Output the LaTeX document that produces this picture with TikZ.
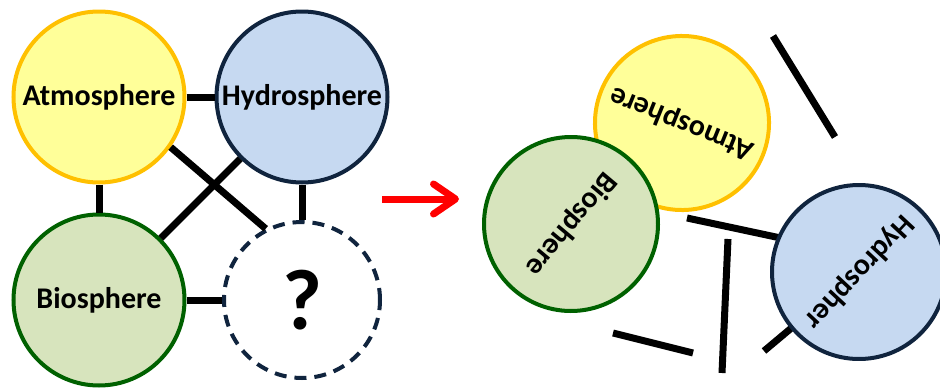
\documentclass[tikz,border=0pt]{standalone}
\usepackage{fontspec}
\setmainfont{Carlito}
\usetikzlibrary{arrows.meta}

\definecolor{atmofill}{HTML}{FFFF99}
\definecolor{atmoline}{HTML}{FFC000}
\definecolor{hydrofill}{HTML}{C6D9F1}
\definecolor{navyline}{HTML}{10243E}
\definecolor{biofill}{HTML}{D7E4BD}
\definecolor{bioline}{HTML}{006100}
\definecolor{arrowred}{HTML}{FF0000}

\tikzset{
  sphere/.style={circle, line width=4pt, minimum size=171pt, inner sep=0pt,
    font=\fontsize{30}{34}\selectfont\bfseries},
  atmo/.style={sphere, draw=atmoline, fill=atmofill},
  hydro/.style={sphere, draw=navyline, fill=hydrofill},
  bio/.style={sphere, draw=bioline, fill=biofill},
  unknown/.style={sphere, draw=navyline, fill=white, minimum size=156pt,
    dash pattern=on 12pt off 8pt, font=\fontsize{86}{90}\selectfont\bfseries},
  link/.style={line width=7pt},
  flow/.style={draw=arrowred, line width=7pt,
    -{Straight Barb[length=22pt, width=30pt, round]}},
}

\begin{document}
\begin{tikzpicture}[x=1pt, y=-1pt, node distance=203pt]
\useasboundingbox (0,0) rectangle (940,391);
% left: the four spheres
\node(A) [atmo] at (99,97) {Atmosphere};
\node(H) [hydro, right of=A] {Hydrosphere};
\node(B) [bio, below of=A] {Biosphere};
\node(Q) [unknown, right of=B] {?};
\draw[link] (A) -- (H);
\draw[link] (A) -- (B);
\draw[link] (H) -- (Q);
\draw[link] (B) -- (Q);
\draw[link] (A.-35) -- (Q.117);
\draw[link] (H.225) -- (B.45);
% arrow
\coordinate (tail) at (382,199);
\coordinate (tip) at (459,199);
\draw[flow] (tail) -- (tip);
% right: broken links
\draw[link] (773,36) -- (835,137);
\draw[link] (687,218) -- (790,240);
\draw[link] (728,239) -- (722,373);
\draw[link] (613,333) -- (693,353);
\draw[link] (764,351) -- (795,325);
% right: the three spheres
\node(A2) [atmo, minimum size=174pt, rotate=158] at (682,123) {Atmosphere};
\node(B2) [bio, minimum size=174pt, rotate=230] at (571,224) {Biosphere};
\node(H2) [hydro, minimum size=174pt, rotate=227] at (859,272) {Hydrospher};
\end{tikzpicture}
\end{document}
